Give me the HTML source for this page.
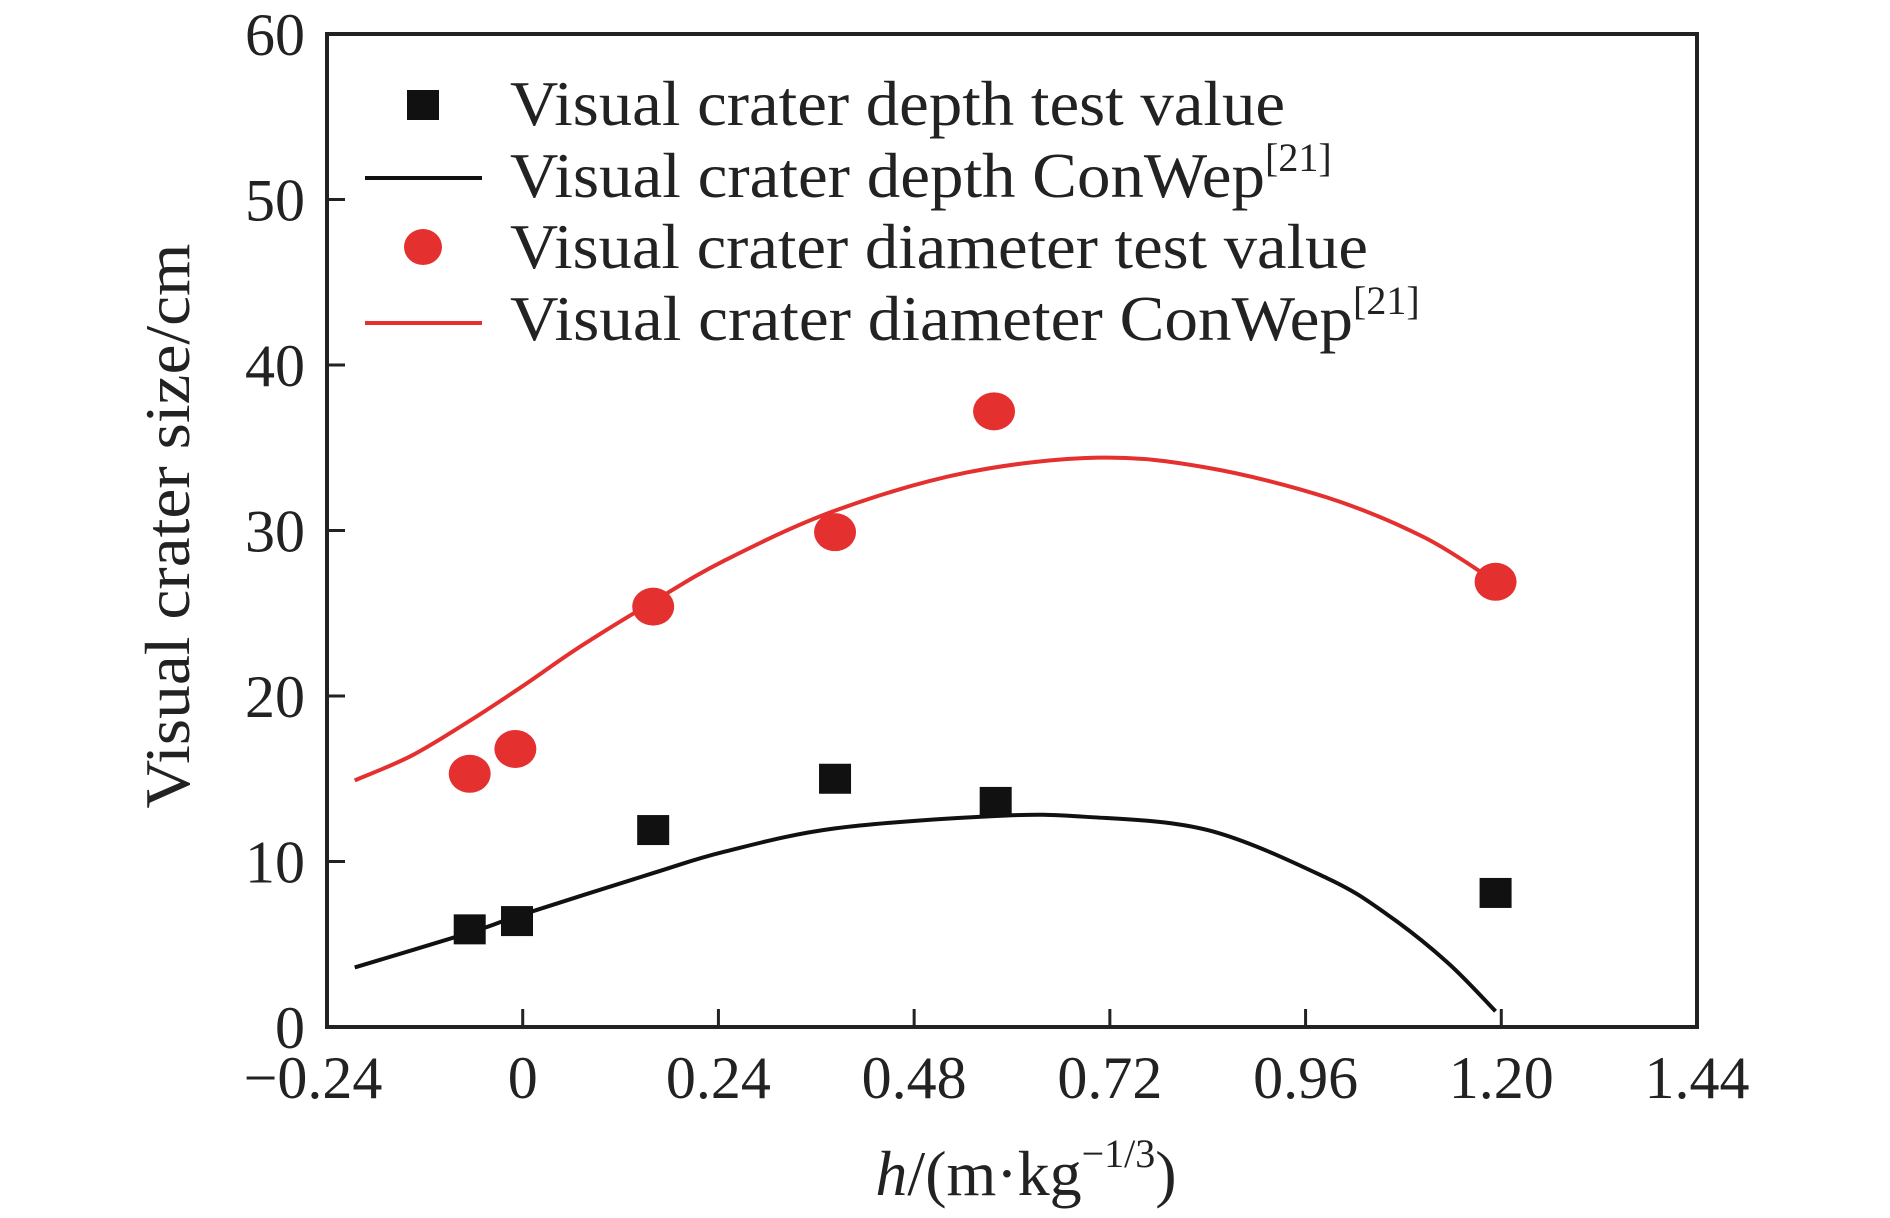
<!DOCTYPE html>
<html><head><meta charset="utf-8"><style>
html,body{margin:0;padding:0;background:#fff;}
svg{display:block;font-family:"Liberation Serif",serif;}
</style></head><body>
<svg id="chart" width="1890" height="1218" viewBox="0 0 1890 1218">
<g id="plot"></g>
<g fill="#222">
  <rect x="407" y="90" width="32" height="30" fill="#111"/>
  <text x="510" y="125" font-size="64" textLength="775" lengthAdjust="spacingAndGlyphs">Visual crater depth test value</text>
  <line x1="365" x2="482" y1="178" y2="178" stroke="#111" stroke-width="4"/>
  <text x="510" y="197" font-size="64"><tspan textLength="755" lengthAdjust="spacingAndGlyphs">Visual crater depth ConWep</tspan><tspan font-size="40" dy="-26">[21]</tspan></text>
  <ellipse cx="423" cy="247" rx="19" ry="18" fill="#e53030"/>
  <text x="510" y="268" font-size="64" textLength="858" lengthAdjust="spacingAndGlyphs">Visual crater diameter test value</text>
  <line x1="365" x2="482" y1="323" y2="323" stroke="#e53030" stroke-width="4"/>
  <text x="510" y="340" font-size="64"><tspan textLength="843" lengthAdjust="spacingAndGlyphs">Visual crater diameter ConWep</tspan><tspan font-size="40" dy="-26">[21]</tspan></text>
</g>
<text x="0" y="0" transform="translate(189,526) rotate(-90)" font-size="64" text-anchor="middle" fill="#222" textLength="565" lengthAdjust="spacingAndGlyphs">Visual crater size/cm</text>
<text x="1026" y="1195" font-size="64" text-anchor="middle" fill="#222"><tspan font-style="italic">h</tspan>/(m·kg<tspan font-size="40" dy="-28">−1/3</tspan><tspan dy="28">)</tspan></text>
</svg>
<script>
const xTicks=[-0.24,0,0.24,0.48,0.72,0.96,1.20,1.44];
const xTickLabels=["\u22120.24","0","0.24","0.48","0.72","0.96","1.20","1.44"];
const yTicks=[0,10,20,30,40,50,60];
const depthX=[-0.065,-0.007,0.16,0.383,0.58,1.193];
const depthY=[5.9,6.4,11.9,15.0,13.6,8.1];
const diamX=[-0.065,-0.009,0.16,0.383,0.578,1.193];
const diamY=[15.3,16.8,25.4,29.9,37.2,26.9];
const depthCurveX=[-0.206,-0.065,0,0.16,0.248,0.383,0.58,0.69,0.84,0.986,1.06,1.134,1.193];
const depthCurveY=[3.6,5.7,6.8,9.3,10.6,12.0,12.75,12.7,11.9,9.0,6.8,3.9,0.95];
const diamCurveX=[-0.206,-0.136,-0.065,0,0.071,0.16,0.248,0.383,0.544,0.706,0.839,0.986,1.105,1.193];
const diamCurveY=[14.9,16.4,18.5,20.6,23.0,25.7,28.2,31.2,33.5,34.4,33.8,32.0,29.6,26.9];

const L=327,R=1697,T=34,B=1027;
const xs=v=>L+(v-(-0.24))/(1.44+0.24)*(R-L);
const ys=v=>B-v/60*(B-T);
const NS="http://www.w3.org/2000/svg";
const g=document.getElementById('plot');
function mk(tag,attrs){const e=document.createElementNS(NS,tag);for(const k in attrs)e.setAttribute(k,attrs[k]);g.appendChild(e);return e;}

function smooth(px,py){
  const p=px.map((x,i)=>[xs(x),ys(py[i])]);
  let d="M"+p[0][0]+","+p[0][1];
  for(let i=0;i<p.length-1;i++){
    const p0=p[i-1]||p[i],p1=p[i],p2=p[i+1],p3=p[i+2]||p[i+1];
    const c1=[p1[0]+(p2[0]-p0[0])/6,p1[1]+(p2[1]-p0[1])/6];
    const c2=[p2[0]-(p3[0]-p1[0])/6,p2[1]-(p3[1]-p1[1])/6];
    d+=" C"+c1[0]+","+c1[1]+" "+c2[0]+","+c2[1]+" "+p2[0]+","+p2[1];
  }
  return d;
}

const dc=mk('path',{d:smooth(diamCurveX,diamCurveY),fill:'none',stroke:'#e53030','stroke-width':4});


const kc=mk('path',{d:smooth(depthCurveX,depthCurveY),fill:'none',stroke:'#111','stroke-width':4});



depthX.forEach((x,i)=>{
  const r=mk('rect',{x:xs(x)-16,y:ys(depthY[i])-15,width:32,height:30,fill:'#111'});
  
  
});
diamX.forEach((x,i)=>{
  const c=mk('ellipse',{cx:xs(x),cy:ys(diamY[i]),rx:21,ry:19,fill:'#e53030'});
  
  
});

const fr=mk('rect',{x:L,y:T,width:R-L,height:B-T,fill:'none',stroke:'#222','stroke-width':4});



xTicks.forEach((v,i)=>{
  const x=xs(v);
  if(i>0&&i<xTicks.length-1){
    const t=mk('line',{x1:x,x2:x,y1:B,y2:B-18,stroke:'#222','stroke-width':3});
    
    
  }
  const tx=mk('text',{x:i===0?x-14:x,y:1098,'font-size':60,'text-anchor':'middle',fill:'#222'});
  tx.textContent=xTickLabels[i];
  
  
});
yTicks.forEach(v=>{
  const y=ys(v);
  if(v>0&&v<60){
    const t=mk('line',{x1:L,x2:L+18,y1:y,y2:y,stroke:'#222','stroke-width':3});
    
    
  }
  const tx=mk('text',{x:305,y:y+21,'font-size':60,'text-anchor':'end',fill:'#222'});
  tx.textContent=String(v);
  
  
});
</script>
</body></html>
